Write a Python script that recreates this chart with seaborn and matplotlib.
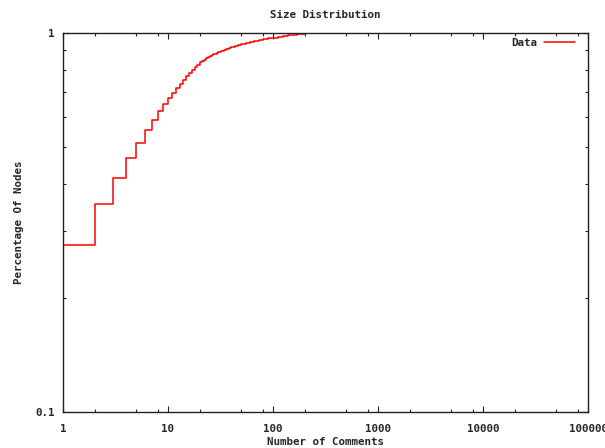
import numpy as np
import pandas as pd
import seaborn as sns
import matplotlib
matplotlib.use("Agg")
import matplotlib.pyplot as plt
from matplotlib.ticker import LogLocator, FixedLocator, NullFormatter, FixedFormatter

# Cumulative share of nodes with at most N comments
comments = [1, 2, 3, 4, 5, 6, 7, 8, 9, 10,
            11, 12, 13, 14, 15, 16, 17, 18, 19, 20,
            21, 22, 23, 24, 25, 26, 27, 28, 29, 30,
            32, 34, 36, 38, 40, 43, 46, 50, 55, 60,
            66, 73, 80, 90, 100, 112, 125, 140, 155, 170,
            185, 200, 205]
share = [0.276, 0.354, 0.415, 0.469, 0.514, 0.555, 0.589, 0.621, 0.651, 0.673,
         0.696, 0.715, 0.733, 0.751, 0.768, 0.786, 0.800, 0.813, 0.825, 0.836,
         0.844, 0.851, 0.857, 0.863, 0.868, 0.873, 0.878, 0.882, 0.886, 0.890,
         0.896, 0.902, 0.908, 0.913, 0.918, 0.924, 0.929, 0.935, 0.941, 0.947,
         0.953, 0.958, 0.963, 0.968, 0.973, 0.977, 0.981, 0.985, 0.988, 0.991,
         0.994, 0.998, 1.000]

x_ticks = [1, 10, 100, 1000, 10000, 100000]
x_tick_labels = ["1", "10", "100", "1000", "10000", "100000"]
y_ticks = [0.1, 1]
y_tick_labels = ["0.1", "1"]

sns.set_style("ticks")
plt.rcParams["font.family"] = ["DejaVu Sans Mono"]
plt.rcParams["font.weight"] = "bold"
FS = 7.8

df = pd.DataFrame({"comments": comments, "share": share})

fig = plt.figure(figsize=(6.05, 4.48), dpi=100)
ax = fig.add_axes([63 / 605, 1 - 412 / 448, (588 - 63) / 605, (412 - 33) / 448])

sns.lineplot(data=df, x="comments", y="share", ax=ax, color="#ff0000",
             linewidth=1.1, drawstyle="steps-post", label="Data",
             estimator=None, sort=True)

ax.set_xscale("log")
ax.set_yscale("log")
ax.set_xlim(1, 100000)
ax.set_ylim(0.1, 1)

ax.xaxis.set_major_locator(FixedLocator(x_ticks))
ax.xaxis.set_major_formatter(FixedFormatter(x_tick_labels))
ax.xaxis.set_minor_locator(LogLocator(base=10, subs=[2, 5, 8]))
ax.xaxis.set_minor_formatter(NullFormatter())
ax.yaxis.set_major_locator(FixedLocator(y_ticks))
ax.yaxis.set_major_formatter(FixedFormatter(y_tick_labels))
ax.yaxis.set_minor_locator(LogLocator(base=10, subs=np.arange(2, 10)))
ax.yaxis.set_minor_formatter(NullFormatter())

ax.tick_params(which="both", direction="in", top=True, right=True,
               color="#202020", width=0.8, labelsize=FS)
ax.tick_params(axis="x", which="both", pad=9)
ax.tick_params(axis="y", which="both", pad=6)
ax.tick_params(which="major", length=4.5)
ax.tick_params(which="minor", length=2.5)
for lab in ax.get_xticklabels() + ax.get_yticklabels():
    lab.set_fontweight("bold")

for s in ax.spines.values():
    s.set_color("#202020")
    s.set_linewidth(1.0)
    s.set_visible(True)

ax.set_title("Size Distribution", fontsize=FS, fontweight="bold", pad=11)
ax.set_xlabel("Number of Comments", fontsize=FS, fontweight="bold", labelpad=2)
ax.set_ylabel("Percentage Of Nodes", fontsize=FS, fontweight="bold", labelpad=8)

leg = ax.legend(loc="upper right", frameon=False, markerfirst=False,
                fontsize=FS, handlelength=2.9, handletextpad=0.6,
                bbox_to_anchor=(1 - 5 / 525, 1 + 3 / 379),
                borderaxespad=0.3, borderpad=0.4)
for t in leg.get_texts():
    t.set_fontweight("bold")

fig.savefig("out.png", dpi=100)
